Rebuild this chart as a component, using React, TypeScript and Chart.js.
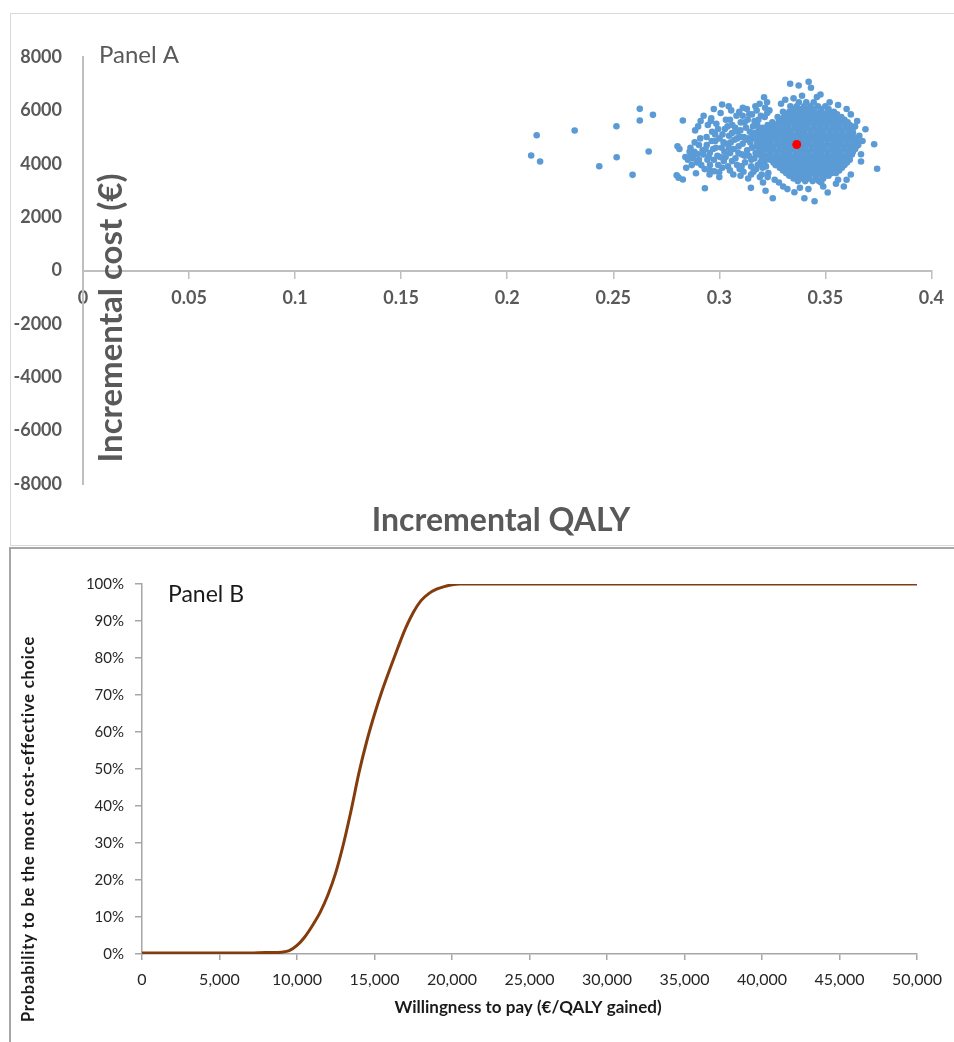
import { useEffect, useRef } from "react";
import { Chart, registerables } from "chart.js";

Chart.register(...registerables);
Chart.defaults.font.family = "Lato, 'Open Sans', sans-serif";

// ---------------- Panel A: cost-effectiveness plane ----------------
const qalyTicks = [0, 0.05, 0.1, 0.15, 0.2, 0.25, 0.3, 0.35, 0.4];
const costTicks = [8000, 6000, 4000, 2000, 0, -2000, -4000, -6000, -8000];

// isolated simulations far to the left
const farQaly = [0.2139, 0.2113, 0.2155, 0.2318, 0.2515, 0.2516, 0.2434, 0.2625, 0.2625, 0.2687, 0.2667, 0.2591];
const farCost = [5069, 4309, 4084, 5245, 5407, 4246, 3909, 6058, 5620, 5833, 4459, 3585];

// tail of the cloud (QALY 0.28 - 0.33)
const tailPoints: [number, number][] = [
  [0.2803, 4657], [0.2812, 4550], [0.2799, 3571], [0.2808, 3480], [0.2828, 3409], [0.2828, 5620],
  [0.284, 4250], [0.2852, 4150], [0.2866, 4310], [0.287, 3950], [0.2882, 4450], [0.289, 3646],
  [0.2886, 5250], [0.2896, 4360], [0.2904, 4150], [0.2912, 5600], [0.2921, 4500], [0.2926, 5800],
  [0.2932, 3084], [0.2931, 3800], [0.2941, 4700], [0.2946, 5450], [0.295, 4260], [0.2956, 3950],
  [0.2962, 5700], [0.2966, 5200], [0.2971, 4550], [0.2976, 3720], [0.2981, 4850], [0.2986, 5500],
  [0.2991, 4300], [0.2999, 3684], [0.3001, 4950], [0.3006, 5900], [0.3011, 4600], [0.3013, 6220],
  [0.3021, 4100], [0.3026, 5300], [0.3031, 5650], [0.3036, 4750], [0.3041, 3900], [0.3046, 5050],
  [0.3051, 4400], [0.3056, 6000], [0.3061, 5450], [0.3066, 3600], [0.3071, 4900], [0.3076, 4200],
  [0.3081, 5800], [0.3086, 5200], [0.3091, 4650], [0.3096, 3800], [0.3101, 5550], [0.3106, 4350],
  [0.3111, 6100], [0.3116, 5000], [0.3121, 4050], [0.3126, 5350], [0.3131, 4500], [0.3136, 3450],
  [0.3141, 5850], [0.3146, 4800], [0.3151, 4150], [0.3149, 3097], [0.3156, 5100], [0.3161, 3700],
  [0.3166, 5600], [0.3171, 4400], [0.3176, 6000], [0.3181, 3950], [0.3186, 5250], [0.3191, 3500],
  [0.3196, 5800], [0.3201, 4200], [0.3206, 3300], [0.3211, 6494], [0.3218, 2986], [0.3216, 6100],
  [0.3231, 3650], [0.3236, 6000], [0.3252, 2710], [0.3261, 3400], [0.3281, 3300], [0.3291, 6250],
  [0.3301, 3150], [0.3311, 6400], [0.3321, 3050],
  [0.311, 4750], [0.3124, 4900], [0.3139, 4300], [0.3154, 4600], [0.3164, 4950], [0.3174, 4650],
  [0.3184, 4350], [0.3189, 5050], [0.3199, 4800], [0.3204, 5350], [0.3209, 4550], [0.3194, 4050],
  [0.3179, 5450], [0.3169, 5150], [0.3159, 5400], [0.3144, 5200], [0.3134, 5650], [0.3119, 5550],
  [0.3099, 5250], [0.3084, 4950], [0.3069, 4550], [0.3054, 4800], [0.3039, 5400], [0.3024, 4450],
  [0.3004, 4250], [0.2984, 4600], [0.2964, 4850], [0.2944, 4150], [0.2924, 4350], [0.2904, 4700],
  [0.2884, 4800], [0.2864, 4600], [0.2844, 3850], [0.2954, 3600], [0.3014, 3850], [0.3084, 3950],
  [0.3114, 3700], [0.3174, 3800], [0.3204, 3850], [0.3214, 4100], [0.3184, 5650], [0.3214, 5750],
  [0.3154, 5850], [0.3094, 5950], [0.3044, 6150], [0.2974, 6050], [0.2994, 5300],
  [0.2895, 4050], [0.2915, 3950], [0.2935, 4550], [0.2955, 4400], [0.2975, 4150], [0.2995, 3950],
  [0.3015, 5100], [0.303, 4250], [0.3045, 4600], [0.306, 4100], [0.3075, 5350], [0.309, 4400],
  [0.3105, 3900], [0.312, 4300], [0.3135, 4950], [0.315, 3900], [0.3165, 4200], [0.318, 4800],
  [0.3195, 4500], [0.321, 5150], [0.3222, 4700], [0.3228, 5450], [0.3232, 4300], [0.322, 3900],
  [0.3226, 5900], [0.31, 5000], [0.306, 5150], [0.302, 4800], [0.298, 5100], [0.294, 5000],
  [0.291, 4950], [0.2875, 4200], [0.286, 4450], [0.29, 5400], [0.296, 5600], [0.305, 5650],
  [0.311, 5800], [0.317, 6150], [0.313, 6050], [0.319, 6250], [0.3225, 6300], [0.315, 3600],
  [0.32, 3600], [0.31, 3550], [0.305, 3750], [0.3, 3500], [0.2955, 3750], [0.3228, 3500],
];

// dense core of the cloud, read row by row (cost level -> QALY values)
const coreCostLevels = [6300, 6150, 5950, 5750, 5550, 5350, 5150, 4950, 4750, 4550, 4350, 4150, 3950, 3750, 3550, 3350];
const coreQalyRows: number[][] = [
  [0.3375, 0.341, 0.3445],
  [0.3335, 0.3365, 0.34, 0.343, 0.3465, 0.35],
  [0.33, 0.333, 0.336, 0.339, 0.342, 0.345, 0.348, 0.351, 0.354],
  [0.3275, 0.3305, 0.3335, 0.3365, 0.3395, 0.3425, 0.3455, 0.3485, 0.3515, 0.3545, 0.3575],
  [0.325, 0.328, 0.331, 0.334, 0.337, 0.34, 0.343, 0.346, 0.349, 0.352, 0.355, 0.358, 0.3605],
  [0.324, 0.3265, 0.3295, 0.3325, 0.3355, 0.3385, 0.3415, 0.3445, 0.3475, 0.3505, 0.3535, 0.3565, 0.3595, 0.362],
  [0.322, 0.325, 0.328, 0.331, 0.334, 0.337, 0.34, 0.343, 0.346, 0.349, 0.352, 0.355, 0.358, 0.361, 0.363],
  [0.3195, 0.3225, 0.3255, 0.3285, 0.3315, 0.3345, 0.3375, 0.3405, 0.3435, 0.3465, 0.3495, 0.3525, 0.3555, 0.3585, 0.3615, 0.364],
  [0.318, 0.321, 0.324, 0.327, 0.33, 0.333, 0.336, 0.339, 0.342, 0.345, 0.348, 0.351, 0.354, 0.357, 0.36, 0.363, 0.365],
  [0.319, 0.3225, 0.3255, 0.3285, 0.3315, 0.3345, 0.3375, 0.3405, 0.3435, 0.3465, 0.3495, 0.3525, 0.3555, 0.3585, 0.3615, 0.364],
  [0.321, 0.324, 0.327, 0.33, 0.333, 0.336, 0.339, 0.342, 0.345, 0.348, 0.351, 0.354, 0.357, 0.36, 0.3625],
  [0.324, 0.3265, 0.3295, 0.3325, 0.3355, 0.3385, 0.3415, 0.3445, 0.3475, 0.3505, 0.3535, 0.3565, 0.3595, 0.3615],
  [0.3265, 0.3295, 0.3325, 0.3355, 0.3385, 0.3415, 0.3445, 0.3475, 0.3505, 0.3535, 0.3565, 0.359],
  [0.33, 0.333, 0.336, 0.339, 0.342, 0.345, 0.348, 0.351, 0.354, 0.3565],
  [0.333, 0.3365, 0.3395, 0.3425, 0.3455, 0.3485, 0.3515],
  [0.337, 0.3405, 0.344, 0.347],
];
// in-between rows of the core
const coreMidCostLevels = [6050, 5850, 5650, 5450, 5250, 5050, 4850, 4650, 4450, 4250, 4050, 3850, 3650, 3450];
const coreMidQalyRows: number[][] = [
  [0.335, 0.338, 0.3415, 0.3445, 0.348, 0.3515],
  [0.3315, 0.3345, 0.3375, 0.3405, 0.3435, 0.3465, 0.3495, 0.3525, 0.3555],
  [0.329, 0.332, 0.335, 0.338, 0.341, 0.344, 0.347, 0.35, 0.353, 0.356, 0.359],
  [0.3265, 0.3295, 0.3325, 0.3355, 0.3385, 0.3415, 0.3445, 0.3475, 0.3505, 0.3535, 0.3565, 0.3595, 0.3615],
  [0.323, 0.3255, 0.328, 0.331, 0.334, 0.337, 0.34, 0.343, 0.346, 0.349, 0.352, 0.355, 0.358, 0.361, 0.3628],
  [0.321, 0.3235, 0.3265, 0.3295, 0.3325, 0.3355, 0.3385, 0.3415, 0.3445, 0.3475, 0.3505, 0.3535, 0.3565, 0.3595, 0.3625],
  [0.3185, 0.321, 0.324, 0.327, 0.33, 0.333, 0.336, 0.339, 0.342, 0.345, 0.348, 0.351, 0.354, 0.357, 0.36, 0.363, 0.3648],
  [0.3195, 0.3225, 0.3255, 0.3285, 0.3315, 0.3345, 0.3375, 0.3405, 0.3435, 0.3465, 0.3495, 0.3525, 0.3555, 0.3585, 0.3615, 0.3645],
  [0.32, 0.324, 0.327, 0.33, 0.333, 0.336, 0.339, 0.342, 0.345, 0.348, 0.351, 0.354, 0.357, 0.36, 0.363],
  [0.3225, 0.3255, 0.3285, 0.3315, 0.3345, 0.3375, 0.3405, 0.3435, 0.3465, 0.3495, 0.3525, 0.3555, 0.3585, 0.3612],
  [0.3255, 0.328, 0.331, 0.334, 0.337, 0.34, 0.343, 0.346, 0.349, 0.352, 0.355, 0.358, 0.3602],
  [0.3285, 0.3315, 0.3345, 0.3375, 0.3405, 0.3435, 0.3465, 0.3495, 0.3525, 0.3555, 0.3578],
  [0.3315, 0.3345, 0.338, 0.341, 0.344, 0.347, 0.35, 0.353, 0.355],
  [0.335, 0.3385, 0.342, 0.3455, 0.349],
];

// scattered simulations around the core
const edgePoints: [number, number][] = [
  [0.3334, 6995], [0.3374, 6931], [0.3421, 7069], [0.3432, 6845], [0.3477, 6594], [0.3689, 5295],
  [0.373, 4733], [0.3744, 3810], [0.3668, 4084], [0.3668, 4358], [0.3449, 2597], [0.3401, 2710],
  [0.3354, 2934], [0.3511, 2922], [0.3587, 3147], [0.352, 6300], [0.356, 6200], [0.36, 6050],
  [0.362, 5850], [0.365, 5600], [0.366, 5050], [0.3655, 4700], [0.362, 3600], [0.36, 3400],
  [0.355, 3250], [0.349, 3150], [0.342, 3050], [0.338, 3100], [0.346, 6500], [0.339, 6550],
  [0.335, 6450], [0.364, 5400], [0.3675, 4850], [0.356, 3400], [0.348, 3300],
];

const meanQaly = [0.3365];
const meanCost = [4721];

// ---------------- Panel B: acceptability curve ----------------
const wtp = [
  0, 1000, 2000, 3000, 4000, 5000, 6000, 7000, 8000, 8500, 9000, 9500, 10000, 10500, 11000, 11500,
  12000, 12500, 13000, 13500, 14000, 14500, 15000, 15500, 16000, 16500, 17000, 17500, 18000, 18500,
  19000, 19500, 20000, 20500, 21000, 22000, 23000, 24000, 25000, 26000, 27000, 28000, 29000, 30000,
  31000, 32000, 33000, 34000, 35000, 36000, 37000, 38000, 39000, 40000, 41000, 42000, 43000, 44000,
  45000, 46000, 47000, 48000, 49000, 50000,
];
const probCE = [
  0.3, 0.3, 0.3, 0.3, 0.3, 0.3, 0.3, 0.3, 0.4, 0.4, 0.5, 0.9, 2.3, 4.6, 7.7, 11.3,
  16, 22, 29.8, 39, 49, 57.5, 64.8, 71.3, 77.1, 82.7, 88, 92.3, 95.5, 97.4,
  98.6, 99.3, 99.8, 100, 100, 100, 100, 100, 100, 100, 100, 100, 100, 100,
  100, 100, 100, 100, 100, 100, 100, 100, 100, 100, 100, 100, 100, 100,
  100, 100, 100, 100, 100, 100,
];

type TextItem = {
  text: string;
  x: number;
  y: number;
  font: string;
  color: string;
  align?: CanvasTextAlign;
  rotate?: boolean;
  spacing?: string;
};

function textPlugin(id: string, items: TextItem[]) {
  return {
    id,
    afterDraw(chart: any) {
      const ctx: any = chart.ctx;
      items.forEach((t) => {
        ctx.save();
        ctx.font = t.font;
        ctx.fillStyle = t.color;
        ctx.textAlign = t.align ?? "left";
        ctx.textBaseline = "alphabetic";
        if (t.spacing) ctx.letterSpacing = t.spacing;
        ctx.translate(t.x, t.y);
        if (t.rotate) ctx.rotate(-Math.PI / 2);
        ctx.fillText(t.text, 0, 0);
        ctx.restore();
      });
    },
  };
}

function buildPanelA(): any {
  const cloud: { x: number; y: number }[] = [];
  farQaly.forEach((q, i) => cloud.push({ x: q, y: farCost[i] }));
  tailPoints.forEach(([q, c]) => cloud.push({ x: q, y: c }));
  coreQalyRows.forEach((row, r) => row.forEach((q) => cloud.push({ x: q, y: coreCostLevels[r] })));
  coreMidQalyRows.forEach((row, r) => row.forEach((q) => cloud.push({ x: q, y: coreMidCostLevels[r] })));
  edgePoints.forEach(([q, c]) => cloud.push({ x: q, y: c }));
  const mean = meanQaly.map((q, i) => ({ x: q, y: meanCost[i] }));
  const grey = "#595959";
  return {
    type: "scatter",
    data: {
      datasets: [
        { data: mean, backgroundColor: "#FF0000", borderWidth: 0, pointRadius: 4.5 },
        { data: cloud, backgroundColor: "#5B9BD5", borderWidth: 0, pointRadius: 3.3 },
      ],
    },
    options: {
      responsive: false,
      animation: false,
      devicePixelRatio: 1,
      layout: { padding: { left: 0, top: 57, right: 12, bottom: 62 } },
      plugins: { legend: { display: false }, tooltip: { enabled: false } },
      scales: {
        x: {
          type: "linear",
          position: { y: 0 },
          min: qalyTicks[0],
          max: qalyTicks[qalyTicks.length - 1],
          afterBuildTicks: (s: any) => {
            s.ticks = qalyTicks.map((v) => ({ value: v }));
          },
          ticks: {
            autoSkip: false,
            maxRotation: 0,
            padding: 10,
            color: grey,
            font: { size: 18, weight: "bold" },
            callback: (v: number) => String(Math.round(v * 100) / 100),
          },
          grid: { drawOnChartArea: false, drawTicks: true, tickLength: 7, color: "#BFBFBF", lineWidth: 1.5 },
          border: { color: "#BFBFBF", width: 2 },
        },
        y: {
          type: "linear",
          min: costTicks[costTicks.length - 1],
          max: costTicks[0],
          afterBuildTicks: (s: any) => {
            s.ticks = costTicks.slice().reverse().map((v) => ({ value: v }));
          },
          afterFit: (s: any) => {
            s.width = 83;
          },
          ticks: {
            autoSkip: false,
            padding: 21,
            color: grey,
            font: { size: 18, weight: "bold" },
            callback: (v: number) => String(v),
          },
          grid: { display: false, drawTicks: false },
          border: { color: "#BFBFBF", width: 2 },
        },
      },
    },
    plugins: [
      textPlugin("panelAText", [
        { text: "Panel A", x: 99, y: 63, font: "24px Lato", color: grey },
        { text: "Incremental cost (€)", x: 122, y: 318, font: "bold 33px Lato", color: grey, align: "center", rotate: true },
        { text: "Incremental QALY", x: 501, y: 531, font: "bold 32px Lato", color: grey, align: "center" },
      ]),
    ],
  };
}

function buildPanelB(): any {
  const dark = "#262626";
  return {
    type: "line",
    data: {
      datasets: [
        {
          data: wtp.map((w, i) => ({ x: w, y: probCE[i] })),
          borderColor: "#843C0C",
          borderWidth: 3,
          pointRadius: 0,
          fill: false,
          cubicInterpolationMode: "monotone",
        },
      ],
    },
    options: {
      responsive: false,
      animation: false,
      devicePixelRatio: 1,
      layout: { padding: { left: 0, top: 36, right: 37, bottom: 0 } },
      plugins: { legend: { display: false }, tooltip: { enabled: false } },
      scales: {
        x: {
          type: "linear",
          min: 0,
          max: 50000,
          afterFit: (s: any) => {
            s.height = 88;
          },
          ticks: {
            stepSize: 5000,
            autoSkip: false,
            maxRotation: 0,
            padding: 10,
            color: dark,
            font: { size: 16 },
            callback: (v: number) => v.toLocaleString("en-US"),
          },
          grid: { drawOnChartArea: false, tickLength: 6, color: "#A6A6A6", lineWidth: 1.5 },
          border: { color: "#A6A6A6", width: 1.5 },
        },
        y: {
          type: "linear",
          min: 0,
          max: 100,
          afterFit: (s: any) => {
            s.width = 142;
          },
          ticks: {
            stepSize: 10,
            autoSkip: false,
            padding: 11,
            color: dark,
            font: { size: 15 },
            callback: (v: number) => v + "%",
          },
          grid: { drawOnChartArea: false, tickLength: 7, color: "#A6A6A6", lineWidth: 1.5 },
          border: { color: "#A6A6A6", width: 1.5 },
        },
      },
    },
    plugins: [
      textPlugin("panelBText", [
        { text: "Panel B", x: 168, y: 54, font: "23px Lato", color: "#1A1A1A" },
        { text: "Willingness to pay (€/QALY gained)", x: 528, y: 465, font: "bold 17px Lato", color: "#1A1A1A", align: "center" },
        { text: "Probability to be the most cost-effective choice", x: 34, y: 281, font: "bold 16.5px Lato", color: "#1A1A1A", align: "center", rotate: true, spacing: "0.8px" },
      ]),
    ],
  };
}

function ChartCanvas({ build, left, top, width, height }: { build: () => any; left: number; top: number; width: number; height: number }) {
  const ref = useRef<HTMLCanvasElement | null>(null);
  useEffect(() => {
    if (!ref.current) return;
    const chart = new Chart(ref.current, build());
    return () => chart.destroy();
  }, [build]);
  return (
    <canvas
      ref={ref}
      width={width}
      height={height}
      style={{ position: "absolute", left, top, width, height, display: "block" }}
    />
  );
}

export default function App() {
  return (
    <div style={{ position: "fixed", left: 0, top: 0, width: 954, height: 1042, overflow: "hidden", background: "#ffffff" }}>
      <div style={{ position: "absolute", left: 10, top: 13, width: 1000, height: 531, border: "1px solid #D9D9D9" }} />
      <div style={{ position: "absolute", left: 9, top: 547, width: 1000, height: 600, border: "2px solid #A6A6A6" }} />
      <ChartCanvas build={buildPanelA} left={0} top={0} width={954} height={546} />
      <ChartCanvas build={buildPanelB} left={0} top={548} width={954} height={494} />
    </div>
  );
}
